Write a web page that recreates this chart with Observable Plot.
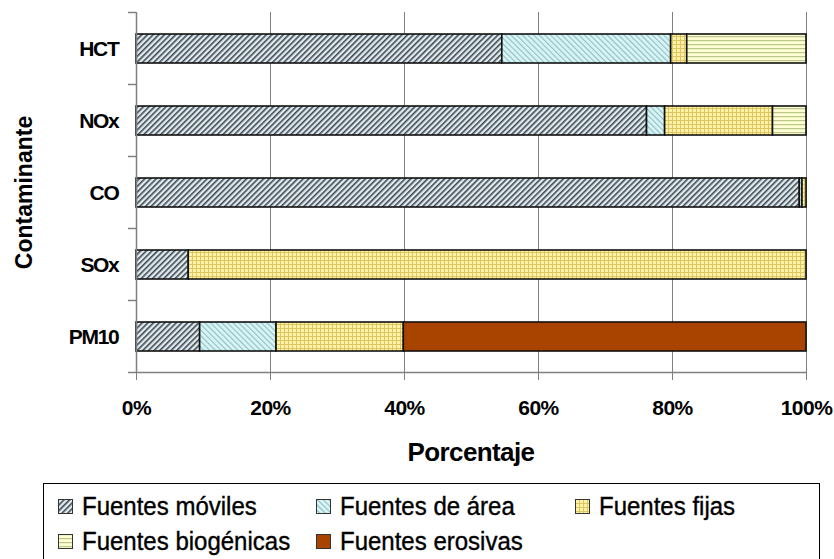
<!DOCTYPE html>
<html><head><meta charset="utf-8">
<script src="https://cdn.jsdelivr.net/npm/d3@7"></script>
<script src="https://cdn.jsdelivr.net/npm/@observablehq/plot@0.6"></script>
<style>
body{margin:0;background:#fff;font-family:"Liberation Sans",Arial,sans-serif;}
#wrap{position:relative;width:834px;height:559px;overflow:hidden;background:#fff}
#wrap > svg{position:absolute;left:0;top:0}
#legend{position:absolute;left:43px;top:483px;width:777px;height:110px;border:1px solid #000;box-sizing:border-box;}
.item{position:absolute;font-size:24px;line-height:28px;display:flex;align-items:center;white-space:nowrap;color:#000}
.item span{display:inline-block;transform:scaleY(1.07);-webkit-text-stroke:0.35px #000}
.item svg{margin-right:9px;display:block}
</style></head><body><div id="wrap"><div id="legend"></div></div>
<script>
const contaminantes = ["HCT", "NOx", "CO", "SOx", "PM10"];
const fuentes = ["Fuentes móviles", "Fuentes de área", "Fuentes fijas", "Fuentes biogénicas", "Fuentes erosivas"];
const moviles    = [54.6, 76.2, 99.0,  7.8,  9.5];
const area       = [25.2,  2.7,  0.4,  0.0, 11.4];
const fijas      = [ 2.4, 16.1,  0.6, 92.2, 19.0];
const biogenicas = [17.8,  5.0,  0.0,  0.0,  0.0];
const erosivas   = [ 0.0,  0.0,  0.0,  0.0, 60.1];
const xTicks = [0, 20, 40, 60, 80, 100];
const xLabel = "Porcentaje";
const yLabel = "Contaminante";

const series = [moviles, area, fijas, biogenicas, erosivas];
const data = [];
contaminantes.forEach((c, i) => {
  fuentes.forEach((f, j) => {
    if (series[j][i] > 0) data.push({c, f, v: series[j][i]});
  });
});
const patternIds = fuentes.map((_, i) => `p${i}`);

const plot = Plot.plot({
  width: 834,
  height: 470,
  marginLeft: 136,
  marginRight: 28,
  marginTop: 12,
  marginBottom: 98,
  style: {fontFamily: "'Liberation Sans', Arial, sans-serif", fontSize: "20px", fontWeight: "bold", color: "#000", background: "transparent"},
  x: {domain: [0, 100], label: null},
  y: {domain: contaminantes, paddingInner: 0.6, paddingOuter: 0.3, label: null},
  color: {domain: fuentes, range: patternIds.map(id => `url(#${id})`)},
  marks: [
    Plot.gridX({ticks: xTicks.filter(d => d > 0), stroke: "#808080", strokeOpacity: 1, strokeWidth: 1}),
    Plot.barX(data, Plot.stackX({x: "v", y: "c", fill: "f", stroke: "#111", strokeWidth: 1.6, order: null})),
    Plot.ruleX([0], {stroke: "#808080", strokeWidth: 1.5}),
    Plot.axisX({ticks: xTicks, tickFormat: d => d + "%", tickSize: 8, tickPadding: 20, stroke: "#808080", fontSize: 21, label: null}),
    Plot.axisY({tickSize: 0, tickPadding: 18, fontSize: 21, label: null})
  ]
});

const defsHTML = `
<pattern id="p0" width="4" height="4" patternUnits="userSpaceOnUse" patternTransform="rotate(45)">
  <rect width="4" height="4" fill="#e2eaee"/><rect width="1.6" height="4" fill="#3c4a52"/>
</pattern>
<pattern id="p1" width="4" height="4" patternUnits="userSpaceOnUse" patternTransform="rotate(-45)">
  <rect width="4" height="4" fill="#d8f4f5"/><rect width="1.1" height="4" fill="#8fbec4"/>
</pattern>
<pattern id="p2" width="4" height="4" patternUnits="userSpaceOnUse">
  <rect width="4" height="4" fill="#fff2a6"/><rect width="1" height="4" fill="#dcc563"/><rect width="4" height="1" fill="#dcc563"/>
</pattern>
<pattern id="p3" width="4" height="4" patternUnits="userSpaceOnUse">
  <rect width="4" height="4" fill="#fffdd2"/><rect width="4" height="1.2" fill="#b9c98c"/>
</pattern>
<pattern id="p4" width="4" height="4" patternUnits="userSpaceOnUse">
  <rect width="4" height="4" fill="#a94300"/>
</pattern>`;
const svg = d3.select(plot);
svg.insert("defs", ":first-child").html(defsHTML);

// tighter letter spacing on tick labels, as in the reference
svg.selectAll('g[aria-label="y-axis tick label"]').attr("letter-spacing", "-1.3");
svg.selectAll('g[aria-label="x-axis tick label"]').attr("letter-spacing", "-0.5");

const xs = plot.scale("x");
const ys = plot.scale("y");
const step = ys.apply(contaminantes[1]) - ys.apply(contaminantes[0]);
const x0 = xs.apply(0), x1 = xs.apply(100);
const yTop = ys.apply(contaminantes[0]) + ys.bandwidth / 2 - step / 2;
const g = svg.append("g").attr("stroke", "#808080").attr("stroke-width", 1.5);
for (let i = 0; i <= contaminantes.length; i++) {
  const yy = yTop + i * step;
  g.append("line").attr("x1", x0 - 8).attr("x2", x0).attr("y1", yy).attr("y2", yy);
}
const yBottom = yTop + contaminantes.length * step;
g.append("line").attr("x1", x0).attr("x2", x1).attr("y1", yBottom).attr("y2", yBottom);

svg.append("text")
  .attr("x", (x0 + x1) / 2).attr("y", 461)
  .attr("text-anchor", "middle")
  .attr("font-size", 26).attr("font-weight", "bold").attr("letter-spacing", "-0.6")
  .text(xLabel);
svg.append("text")
  .attr("transform", `translate(32,${(yTop + yBottom) / 2}) rotate(-90)`)
  .attr("text-anchor", "middle")
  .attr("font-size", 23).attr("font-weight", "bold")
  .text(yLabel);

document.getElementById("wrap").prepend(plot);

// Legend
const legend = document.getElementById("legend");
const cols = [14, 272, 531];
const rows = [8, 43];
fuentes.forEach((f, i) => {
  const item = document.createElement("div");
  item.className = "item";
  item.style.left = cols[i % 3] + "px";
  item.style.top = rows[Math.floor(i / 3)] + "px";
  item.innerHTML = `<svg width="15" height="15"><rect x="0.5" y="0.5" width="14" height="14" fill="url(#${patternIds[i]})" stroke="#333" stroke-width="1"/></svg><span>${f}</span>`;
  legend.appendChild(item);
});
</script>
</body></html>
